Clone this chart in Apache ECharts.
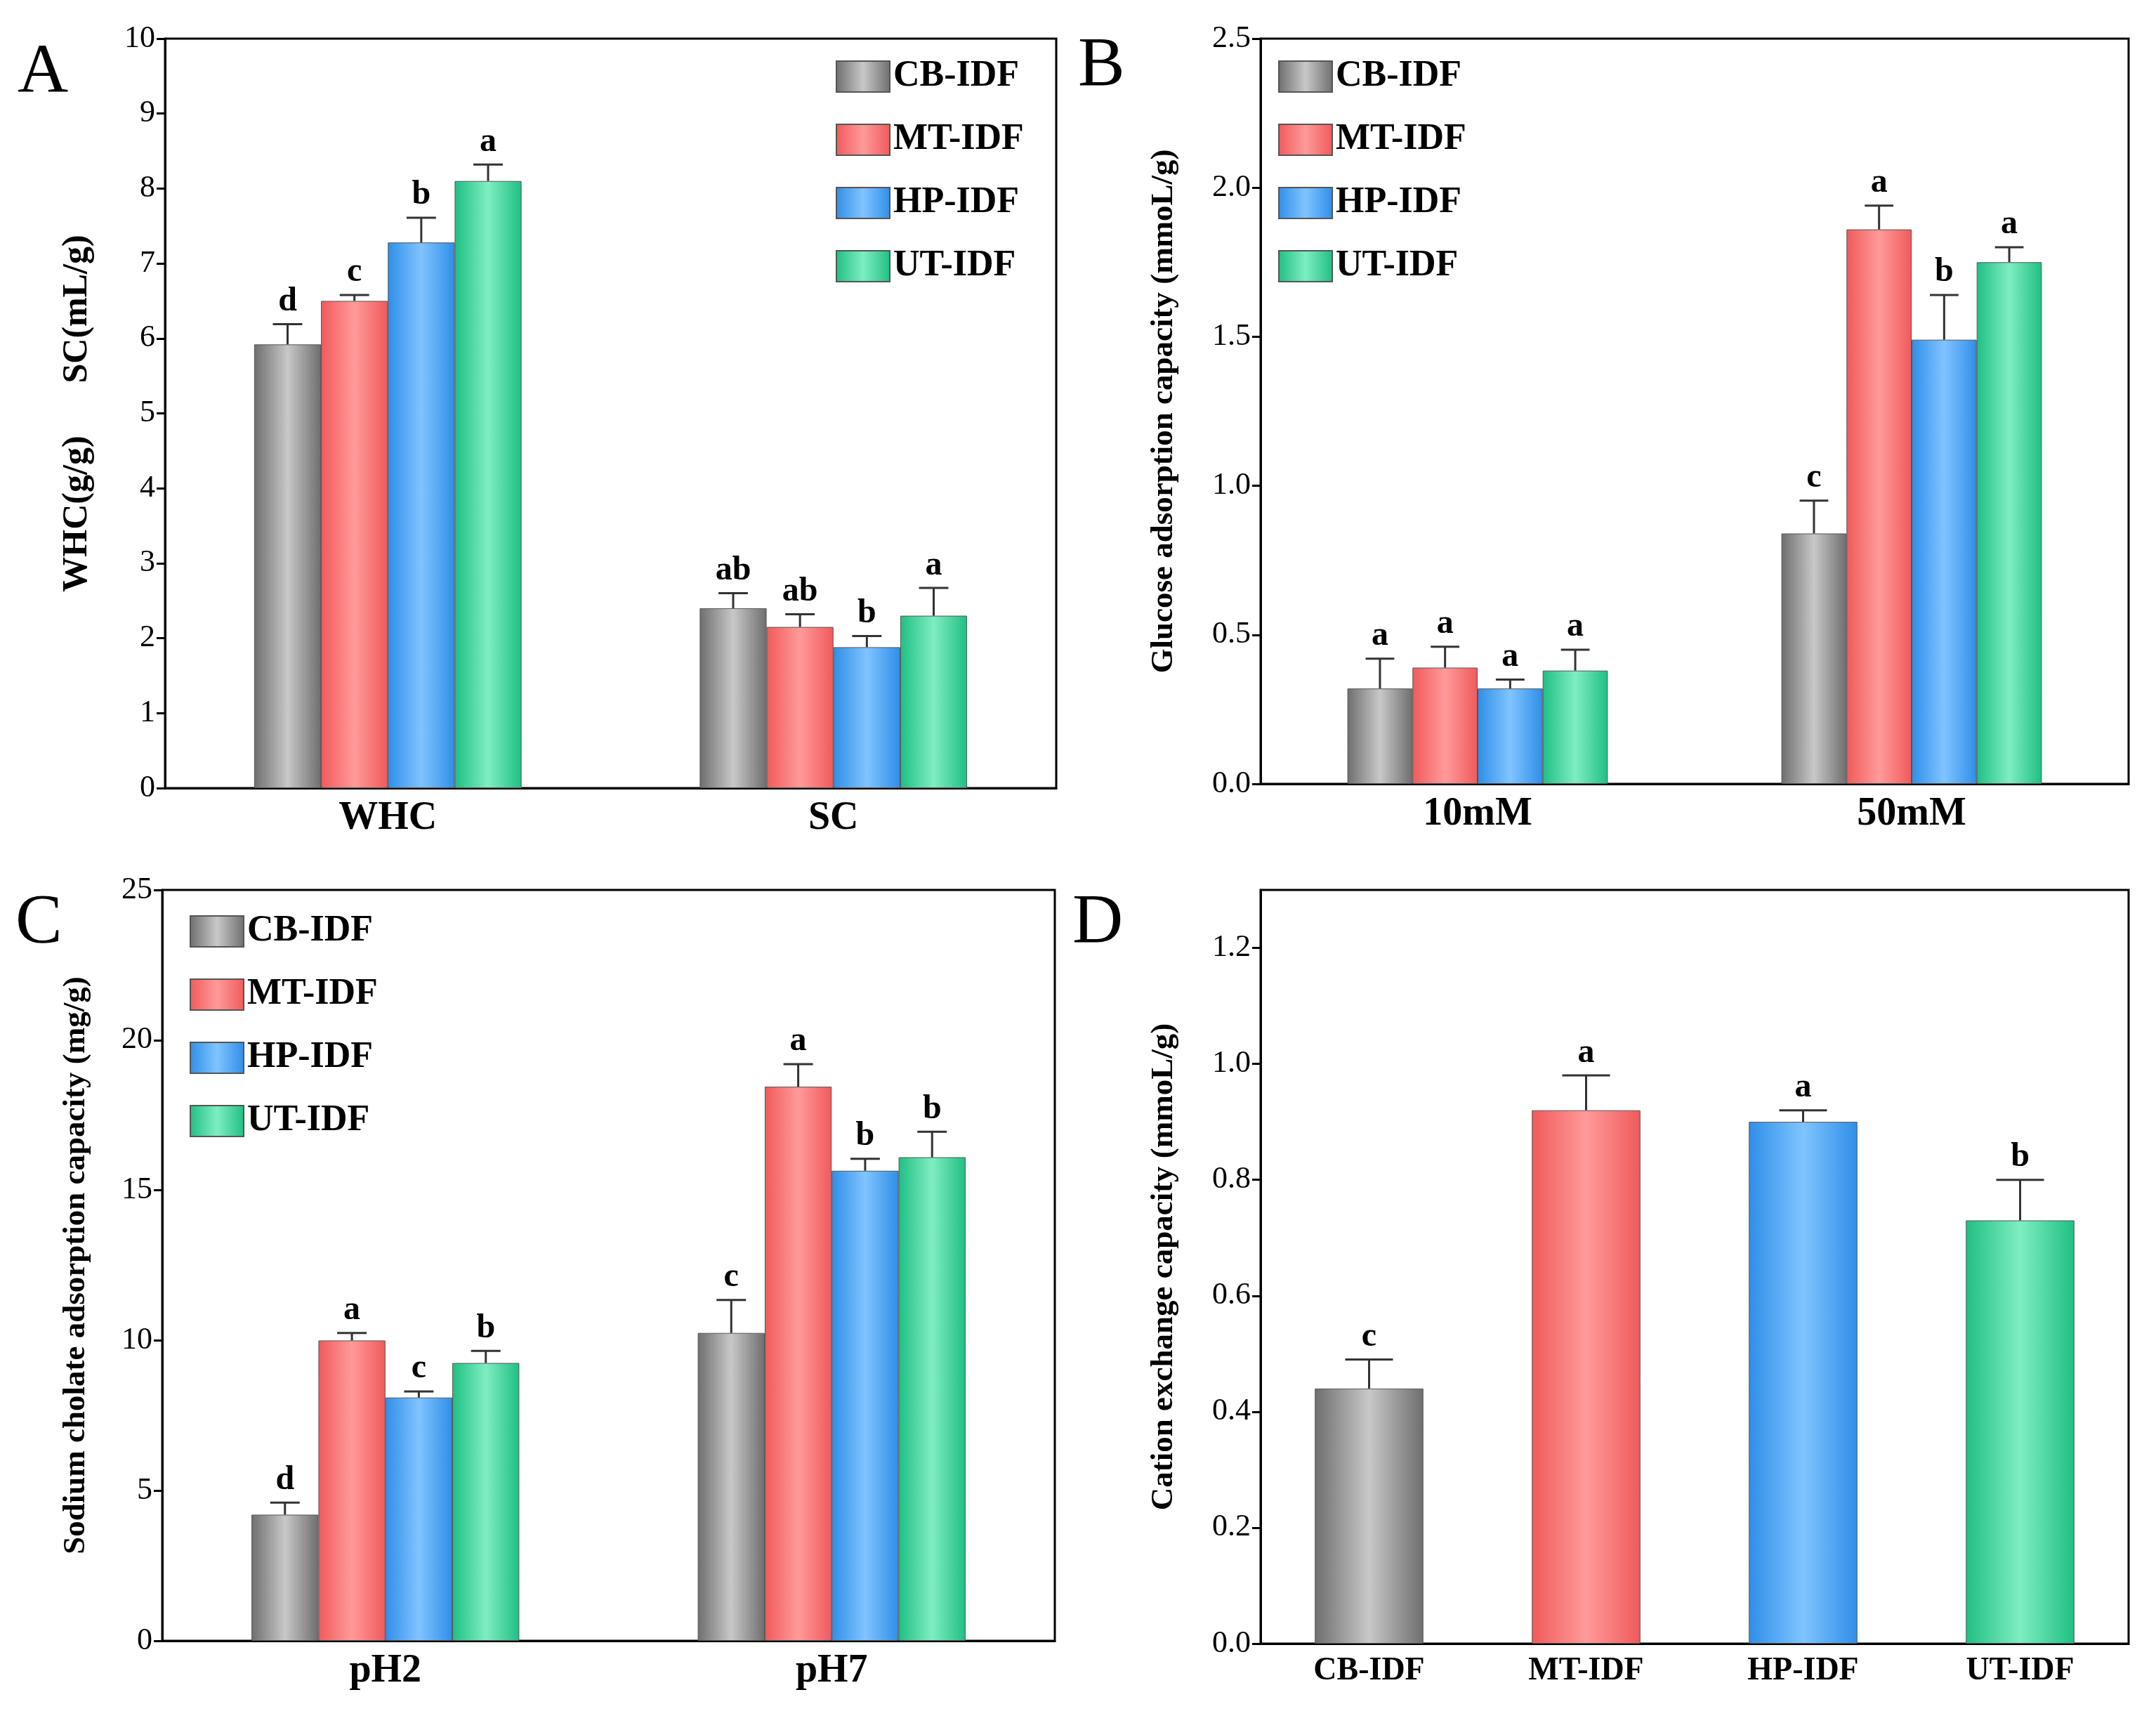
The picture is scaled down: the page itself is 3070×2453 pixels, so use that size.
<!DOCTYPE html>
<html><head><meta charset="utf-8">
<script src="https://cdn.jsdelivr.net/npm/echarts@6/dist/echarts.min.js"></script>
<style>html,body{margin:0;padding:0;background:#fff}#c{width:3070px;height:2453px}</style>
</head><body><div id="c"></div>
<script>
const seriesNames = ['CB-IDF','MT-IDF','HP-IDF','UT-IDF'];
// Panel A
const catsA = ['WHC','SC'];
const valsA = [[5.92,2.40],[6.50,2.15],[7.28,1.88],[8.10,2.30]];
const errA  = [[0.27,0.20],[0.08,0.17],[0.33,0.15],[0.22,0.37]];
const letA  = [['d','ab'],['c','ab'],['b','b'],['a','a']];
// Panel B
const catsB = ['10mM','50mM'];
const valsB = [[0.32,0.84],[0.39,1.86],[0.32,1.49],[0.38,1.75]];
const errB  = [[0.10,0.11],[0.07,0.08],[0.03,0.15],[0.07,0.05]];
const letB  = [['a','c'],['a','a'],['a','b'],['a','a']];
// Panel C
const catsC = ['pH2','pH7'];
const valsC = [[4.20,10.25],[10.00,18.45],[8.10,15.65],[9.25,16.10]];
const errC  = [[0.40,1.10],[0.25,0.75],[0.20,0.40],[0.40,0.85]];
const letC  = [['d','c'],['a','a'],['c','b'],['b','b']];
// Panel D
const catsD = ['CB-IDF','MT-IDF','HP-IDF','UT-IDF'];
const valsD = [0.44,0.92,0.90,0.73];
const errD  = [0.05,0.06,0.02,0.07];
const letD  = ['c','a','a','b'];

const FONT = 'Liberation Serif';
const baseCols = [['#6e6e6e','#c8c8c8'],['#f05a5a','#ff9a9a'],['#2f8ee8','#80c4ff'],['#1fbf83','#7eeec2']];
function grad(i){
  const [d,l]=baseCols[i];
  return new echarts.graphic.LinearGradient(0,0,1,0,[{offset:0,color:d},{offset:0.5,color:l},{offset:1,color:d}]);
}
const grids = [
  {left:235,top:55,width:1269,height:1067},
  {left:1795,top:55,width:1236,height:1061},
  {left:231,top:1267,width:1271,height:1069},
  {left:1795,top:1267,width:1236,height:1073}
];
const yCfg = [
  {min:0,max:10,interval:1,name:'WHC(g/g)      SC(mL/g)',fmt:v=>v},
  {min:0,max:2.5,interval:0.5,name:'Glucose adsorption capacity (mmoL/g)',fmt:v=>v.toFixed(1)},
  {min:0,max:25,interval:5,name:'Sodium cholate adsorption capacity (mg/g)',fmt:v=>v},
  {min:0,max:1.3,interval:0.2,name:'Cation exchange capacity (mmoL/g)',fmt:v=>v.toFixed(1)}
];
const cats = [catsA,catsB,catsC,catsD];
const legendBase = {orient:'vertical',icon:'rect',itemWidth:76,itemHeight:44,itemGap:38,data:seriesNames,
  textStyle:{fontFamily:FONT,fontWeight:'bold',fontSize:52,color:'#000'}};
const option = {
  animation:false,
  backgroundColor:'#fff',
  textStyle:{fontFamily:FONT},
  grid: grids.map(g=>Object.assign({show:true,borderColor:'#000',borderWidth:3,backgroundColor:'transparent'},g)),
  xAxis: cats.map((c,i)=>({type:'category',gridIndex:i,data:c,
    axisLine:{lineStyle:{color:'#000',width:3}},axisTick:{show:false},
    axisLabel:{color:'#000',fontFamily:FONT,fontWeight:'bold',fontSize:i===3?46:56,margin:16}})),
  yAxis: yCfg.map((y,i)=>({type:'value',gridIndex:i,min:y.min,max:y.max,interval:y.interval,
    name:y.name,nameLocation:'middle',nameGap:i===1||i===3?115:100,
    nameTextStyle:{color:'#000',fontFamily:FONT,fontWeight:'bold',fontSize:i===0?50:45},
    splitLine:{show:false},axisLine:{show:true,lineStyle:{color:'#000',width:3}},
    axisTick:{show:true,length:12,lineStyle:{width:3,color:'#000'}},
    axisLabel:{color:'#000',fontFamily:FONT,fontSize:44,margin:14,showMaxLabel:i!==3,formatter:y.fmt}})),
  legend: [
    Object.assign({left:1185,top:78},legendBase),
    Object.assign({left:1815,top:78},legendBase),
    Object.assign({left:265,top:1295},legendBase)
  ],
  graphic: [['A',25,55],['B',1535,45],['C',22,1265],['D',1527,1265]].map(([t,x,y])=>({type:'text',left:x,top:y,
    style:{text:t,font:'100px "Liberation Serif"',fill:'#000'}})),
  series: []
};
function errSeries(gi, data, nSeries, idx, widthFrac){
  return {type:'custom',xAxisIndex:gi,yAxisIndex:gi,z:5,data:data,
    renderItem:(params,api)=>{
      const ci=api.value(0), v=api.value(1), e=api.value(2);
      const letter = data[params.dataIndex][3];
      const catW=api.size([1,0])[0];
      const bw=catW*widthFrac/nSeries;
      const p=api.coord([ci,v]);
      const top=api.coord([ci,v+e]);
      const x=p[0]+(idx-(nSeries-1)/2)*bw;
      const cap=bw*0.22;
      return {type:'group',children:[
        {type:'line',shape:{x1:x,y1:p[1],x2:x,y2:top[1]},style:{stroke:'#333',lineWidth:3}},
        {type:'line',shape:{x1:x-cap,y1:top[1],x2:x+cap,y2:top[1]},style:{stroke:'#333',lineWidth:3}},
        {type:'text',x:x,y:top[1]-8,style:{text:letter,font:'bold 48px "Liberation Serif"',fill:'#000',align:'center',verticalAlign:'bottom'}}
      ]};
    }};
}
[[valsA,errA,letA],[valsB,errB,letB],[valsC,errC,letC]].forEach(([vals,errs,lets],gi)=>{
  seriesNames.forEach((n,si)=>{
    option.series.push({type:'bar',name:n,xAxisIndex:gi,yAxisIndex:gi,data:vals[si],
      barGap:'0%',barCategoryGap:'40%',itemStyle:{color:grad(si),borderColor:'#555',borderWidth:1}});
  });
  seriesNames.forEach((n,si)=>{
    option.series.push(errSeries(gi, vals[si].map((v,ci)=>[ci,v,errs[si][ci],lets[si][ci]]),4,si,0.6));
  });
});
option.series.push({type:'bar',name:'D',xAxisIndex:3,yAxisIndex:3,barCategoryGap:'50%',
  data:valsD.map((v,i)=>({value:v,itemStyle:{color:grad(i),borderColor:'#555',borderWidth:1}}))});
option.series.push(errSeries(3, valsD.map((v,i)=>[i,v,errD[i],letD[i]]),1,0,0.5));
echarts.init(document.getElementById('c')).setOption(option);
</script></body></html>
